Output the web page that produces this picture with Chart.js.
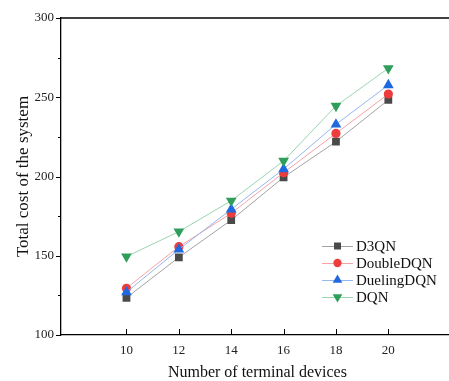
<!DOCTYPE html>
<html>
<head>
<meta charset="utf-8">
<script src="https://cdn.jsdelivr.net/npm/chart.js@4/dist/chart.umd.min.js"></script>
<style>
html,body{margin:0;padding:0;background:#fff;overflow:hidden;}
#wrap{width:449px;height:381px;overflow:hidden;position:relative;}
canvas{display:block;}
</style>
</head>
<body>
<div id="wrap"><canvas id="c" width="460" height="381"></canvas></div>
<script>
// ---- data ----
const xValues = [10, 12, 14, 16, 18, 20];
const xTicks = [10, 12, 14, 16, 18, 20];
const seriesNames = ['D3QN', 'DoubleDQN', 'DuelingDQN', 'DQN'];
const d3qn = [123.5, 149, 172.5, 199.5, 222, 248.3];
const doubleDqn = [129.5, 155.7, 176.8, 202.4, 227.2, 252];
const duelingDqn = [127, 154, 179.3, 204.7, 232.9, 257.7];
const dqn = [149.5, 165.2, 184.7, 209.8, 244.5, 268.3];
const yTitle = 'Total cost of the system';
const xTitle = 'Number of terminal devices';

const FONT = '"Liberation Serif", "Times New Roman", serif';

const styles = [
  {line: '#a3a3a3', fill: '#4a4a4a', pointStyle: 'rect', radius: 5.5, rotation: 0},
  {line: '#f4a3a3', fill: '#ee3b3b', pointStyle: 'circle', radius: 4.6, rotation: 0},
  {line: '#93b7ee', fill: '#1f68e0', pointStyle: 'triangle', radius: 6.2, rotation: 0},
  {line: '#9ad5b0', fill: '#2f9e5a', pointStyle: 'triangle', radius: 6.2, rotation: 180}
];
const allSeries = [d3qn, doubleDqn, duelingDqn, dqn];

const datasets = allSeries.map((vals, i) => ({
  label: seriesNames[i],
  data: xValues.map((x, j) => ({x: x, y: vals[j]})),
  borderColor: styles[i].line,
  borderWidth: 1,
  backgroundColor: styles[i].fill,
  pointBackgroundColor: styles[i].fill,
  pointBorderColor: styles[i].fill,
  pointBorderWidth: 0,
  pointStyle: styles[i].pointStyle,
  pointRadius: styles[i].radius,
  pointRotation: styles[i].rotation,
  tension: 0,
  order: 4 - i
}));

function drawMarker(ctx, style, x, y) {
  ctx.save();
  ctx.fillStyle = style.fill;
  ctx.beginPath();
  const r = style.radius;
  if (style.pointStyle === 'rect') {
    const s = Math.SQRT1_2 * r;
    ctx.rect(x - s, y - s, 2 * s, 2 * s);
  } else if (style.pointStyle === 'circle') {
    ctx.arc(x, y, r, 0, Math.PI * 2);
  } else {
    let rad = style.rotation * Math.PI / 180;
    const T = 2 * Math.PI / 3;
    ctx.moveTo(x + Math.sin(rad) * r, y - Math.cos(rad) * r);
    rad += T; ctx.lineTo(x + Math.sin(rad) * r, y - Math.cos(rad) * r);
    rad += T; ctx.lineTo(x + Math.sin(rad) * r, y - Math.cos(rad) * r);
    ctx.closePath();
  }
  ctx.fill();
  ctx.restore();
}

const framePlugin = {
  id: 'frame',
  afterDraw(chart) {
    const ctx = chart.ctx;
    const a = chart.chartArea;
    const xs = chart.scales.x, ys = chart.scales.y;
    ctx.save();
    ctx.strokeStyle = '#000';
    ctx.lineWidth = 1.3;
    // top frame line
    ctx.beginPath();
    ctx.moveTo(a.left, a.top);
    ctx.lineTo(a.right, a.top);
    ctx.stroke();
    ctx.lineWidth = 1;
    // y ticks (outward)
    ys.ticks.forEach(t => {
      const py = Math.round(ys.getPixelForValue(t.value)) + 0.5;
      const len = (t.value % 50 === 0) ? 5 : 3;
      ctx.beginPath();
      ctx.moveTo(a.left - len, py);
      ctx.lineTo(a.left, py);
      ctx.stroke();
    });
    // x ticks (inward)
    xTicks.forEach(v => {
      const px = Math.round(xs.getPixelForValue(v)) + 0.5;
      ctx.beginPath();
      ctx.moveTo(px, a.bottom);
      ctx.lineTo(px, a.bottom - 6);
      ctx.stroke();
    });
    // legend
    const lx = 322, ly = 246, dy = 17;
    ctx.font = '15px ' + FONT;
    ctx.textBaseline = 'middle';
    ctx.textAlign = 'left';
    chart.data.datasets.forEach((ds, i) => {
      const y = ly + i * dy;
      ctx.strokeStyle = styles[i].line;
      ctx.lineWidth = 1;
      ctx.beginPath();
      ctx.moveTo(lx, y + 0.5);
      ctx.lineTo(lx + 31, y + 0.5);
      ctx.stroke();
      drawMarker(ctx, Object.assign({}, styles[i], {radius: styles[i].radius * 0.9}), lx + 15.5, y);
      ctx.fillStyle = '#111';
      ctx.fillText(ds.label, lx + 34, y + 1);
    });
    ctx.restore();
  }
};

new Chart(document.getElementById('c'), {
  type: 'line',
  data: {datasets: datasets},
  plugins: [framePlugin],
  options: {
    responsive: false,
    devicePixelRatio: 1,
    animation: false,
    layout: {padding: {top: 18, right: 6, left: 0, bottom: 0}},
    plugins: {legend: {display: false}, tooltip: {enabled: false}},
    scales: {
      x: {
        type: 'linear',
        position: 'bottom',
        min: 7.5,
        max: 22.5,
        afterBuildTicks: (s) => { s.ticks = xTicks.map(v => ({value: v})); },
        afterFit: (s) => { s.height = 46; },
        grid: {display: true, drawOnChartArea: false, drawTicks: false},
        border: {display: true, color: '#000', width: 1.3},
        ticks: {font: {family: FONT, size: 13}, color: '#222', padding: 8, maxRotation: 0, autoSkip: false},
        title: {display: true, text: xTitle, font: {family: FONT, size: 16, lineHeight: 1}, color: '#111', padding: {top: 0, bottom: 0}}
      },
      y: {
        min: 100,
        max: 300,
        afterFit: (s) => { s.width = 61; },
        grid: {display: true, drawOnChartArea: false, drawTicks: false},
        border: {display: true, color: '#000', width: 1.3},
        ticks: {
          stepSize: 25,
          font: {family: FONT, size: 13},
          color: '#222',
          padding: 7,
          autoSkip: false,
          callback: (v) => (v % 50 === 0 ? String(v) : '')
        },
        title: {display: true, text: yTitle, font: {family: FONT, size: 17}, color: '#111', padding: {top: 13, bottom: 0}}
      }
    }
  }
});
</script>
</body>
</html>
